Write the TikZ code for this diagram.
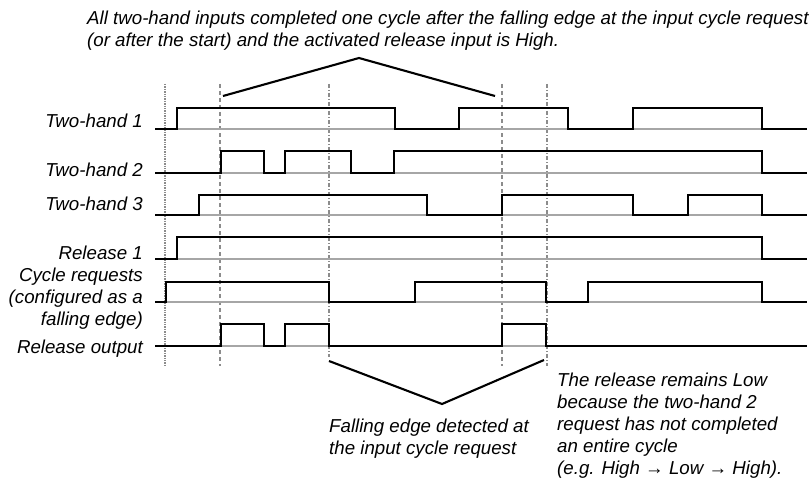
\documentclass[tikz,border=0pt]{standalone}
\usepackage{fontspec}
\setmainfont{Liberation Sans}
\begin{document}
\begin{tikzpicture}[
  x=1pt,y=-1pt,
  sig/.style={draw=black,line width=2.9pt,line join=miter},
  base/.style={draw=black!35,line width=1.2pt},
  guide/.style={draw=black!45,line width=1.4pt},
  bracket/.style={draw=black,line width=2.1pt},
  label/.style={font=\fontsize{18.7}{22}\selectfont\itshape,inner sep=0pt},
]
\useasboundingbox (0,0) rectangle (810,484);

\node[label,anchor=north west,align=left] (notetop) at (87,11)
  {All two-hand inputs completed one cycle after the falling edge at the input cycle request\\(or after the start) and the activated release input is High.};

\node[label,anchor=base east] (th1) at (143,127) {Two-hand 1};
\node[label,anchor=base east] (th2) at (143,176) {Two-hand 2};
\node[label,anchor=base east] (th3) at (143,210) {Two-hand 3};
\node[label,anchor=base east] (rel1) at (143,259) {Release 1};
\node[label,anchor=north east,align=right] (cycreq) at (143,267.5)
  {Cycle requests\\(configured as a\\falling edge)};
\node[label,anchor=base east] (relout) at (143,353) {Release output};

\draw[guide,densely dotted] (165,84) -- (165,366);
\draw[guide,dash pattern=on 4pt off 3pt] (220,84) -- (220,366);
\draw[guide,dash pattern=on 4pt off 2pt on 1pt off 2pt] (329,84) -- (329,357);
\draw[guide,dash pattern=on 4pt off 3pt] (502,84) -- (502,366);
\draw[guide,dash pattern=on 4pt off 2pt on 1pt off 2pt] (547,84) -- (547,366);

\foreach \y in {129,173,215,259,302,346}
  \draw[base] (155,\y) -- (807,\y);

\draw[sig] (155,129) -| (177,108) -| (395,129) -| (459,108) -| (568,129)
  -| (633,108) -| (762,129) -- (807,129);
\draw[sig] (155,173) -| (221,151) -| (264,173) -| (285,151) -| (351,173)
  -| (394,151) -| (762,173) -- (807,173);
\draw[sig] (155,215) -| (199,195) -| (427,215) -| (502,195) -| (633,215)
  -| (688,195) -| (762,215) -- (807,215);
\draw[sig] (155,259) -| (177,237) -| (762,259) -- (807,259);
\draw[sig] (155,302) -| (166,282) -| (329,302) -| (415,282) -| (546,302)
  -| (588,282) -| (762,302) -- (807,302);
\draw[sig] (155,346) -| (221,324) -| (264,346) -| (285,324) -| (329,346)
  -| (502,324) -| (546,346) -- (807,346);

\coordinate (topL) at (223,96);
\coordinate (topP) at (359,58);
\coordinate (topR) at (495,96);
\draw[bracket] (topL) -- (topP) -- (topR);

\coordinate (fallL) at (329,361);
\coordinate (fallP) at (442,404);
\coordinate (fallR) at (544,360);
\draw[bracket] (fallL) -- (fallP) -- (fallR);

\node[label,anchor=north west,align=left] (notefall) at (329,419)
  {Falling edge detected at\\the input cycle request};
\node[label,anchor=north west,align=left] (notelow) at (557,373)
  {The release remains Low\\because the two-hand 2\\request has not completed\\an entire cycle\\(e.g. High → Low → High).};

\end{tikzpicture}
\end{document}
